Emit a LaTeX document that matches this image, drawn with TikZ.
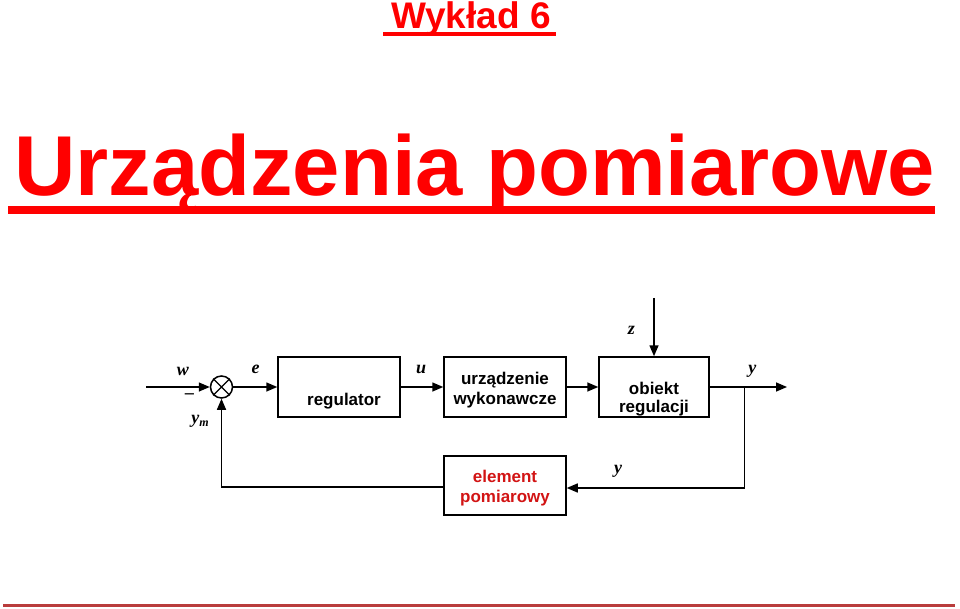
\documentclass[tikz,border=0pt]{standalone}
\usepackage{fontspec}
\setmainfont{Liberation Sans}
\newfontfamily\labfont{Liberation Serif}
\usetikzlibrary{arrows.meta}
\definecolor{titlered}{RGB}{255,0,0}
\definecolor{elred}{RGB}{210,20,20}
\definecolor{rulered}{RGB}{185,60,60}
\begin{document}
\begin{tikzpicture}[x=1pt,y=-1pt,
  blk/.style={draw, line width=1.5pt, inner sep=0pt},
  btxt/.style={font=\bfseries\fontsize{17}{20}\selectfont, inner sep=0pt, anchor=base},
  lbl/.style={font=\labfont\bfseries\itshape\fontsize{18}{18}\selectfont, inner sep=0pt},
  conn/.style={line width=1.5pt, -{Triangle[length=11pt,width=9pt]}},
  line/.style={line width=1.5pt}]
\useasboundingbox (0,0) rectangle (960,609);
% titles
\node[font=\bfseries\fontsize{37}{37}\selectfont, text=titlered, anchor=base, inner sep=0pt] (t1) at (471,29) {Wykład 6};
\fill[titlered] (383,32.5) rectangle (556,36.5);
\node[font=\bfseries\fontsize{85}{85}\selectfont, text=titlered, anchor=base west, inner sep=0pt] (t2) at (14,196) {Urządzenia pomiarowe};
\fill[titlered] (8,206) rectangle (935,214);
\fill[rulered] (3,604) rectangle (955,606.5);
% blocks
\node[blk, minimum width=122pt, minimum height=60pt] (reg) at (339,387) {};
\node[blk, minimum width=122pt, minimum height=60pt] (urz) at (505,387) {};
\node[blk, minimum width=110pt, minimum height=60pt] (obj) at (654,387) {};
\node[blk, minimum width=122pt, minimum height=59pt] (elm) at (505,485.5) {};
\node[draw, circle, line width=1.5pt, minimum size=22pt, inner sep=0pt] (sum) at (221.5,387) {};
\draw[line width=1.2pt] (sum.north west) -- (sum.south east) (sum.north east) -- (sum.south west);
% block texts
\node[btxt] (regt) at (344,405) {regulator};
\node[btxt] (urzt1) at (505,384.3) {urządzenie};
\node[btxt] (urzt2) at (505,404.3) {wykonawcze};
\node[btxt] (objt1) at (654,394) {obiekt};
\node[btxt] (objt2) at (654,412.3) {regulacji};
\node[btxt, text=elred] (elmt1) at (505,482.7) {element};
\node[btxt, text=elred] (elmt2) at (505,502.7) {pomiarowy};
% labels
\node[lbl] (lw) at (183,371) {w};
\node[lbl] (lminus) at (189.5,396.5) {–};
\node[lbl] (lym) at (200,421) {y\raisebox{-0.35ex}{\fontsize{12}{12}\selectfont m}};
\node[lbl] (le) at (255.5,369.5) {e};
\node[lbl] (lu) at (421,369.5) {u};
\node[lbl] (lz) at (631.3,330.5) {z};
\node[lbl] (ly1) at (752.3,371) {y};
\node[lbl] (ly2) at (618,471.5) {y};
% connectors
\coordinate (win) at (146,387);
\coordinate (ztop) at (654,298);
\coordinate (yout) at (787,387);
\coordinate (br) at (744.5,387);
\coordinate (brb) at (744.5,488);
\coordinate (fbl) at (221.5,487);
\draw[conn] (win) -- (sum.west);
\draw[conn] (sum.east) -- (reg.west);
\draw[conn] (reg.east) -- (urz.west);
\draw[conn] (urz.east) -- (obj.west);
\draw[conn] (ztop) -- (obj.north);
\draw[conn] (obj.east) -- (yout);
\draw[conn] (br) -- (brb) -- ([yshift=-2.5pt]elm.east);
\draw[conn] ([yshift=-1.5pt]elm.west) -- (fbl) -- (sum.south);
\end{tikzpicture}
\end{document}
